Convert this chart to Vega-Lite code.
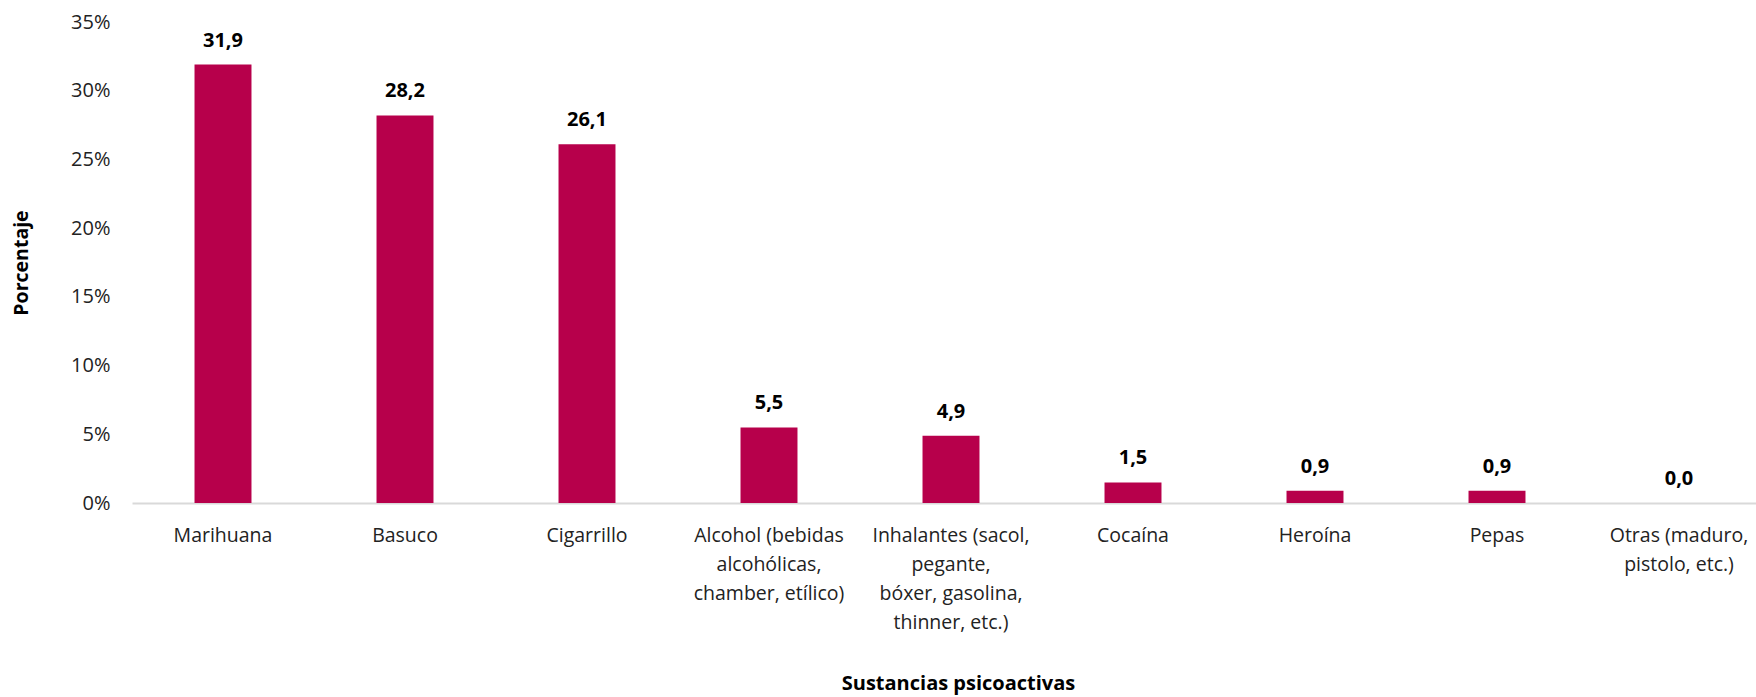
{
  "$schema": "https://vega.github.io/schema/vega-lite/v6.json",
  "autosize": {"type": "none"},
  "padding": {"left": 132, "top": 22, "right": 0, "bottom": 194},
  "width": 1624,
  "height": 481,
  "config": {
    "view": {"stroke": null},
    "font": "Open Sans",
    "locale": {"number": {"decimal": ",", "thousands": ".", "grouping": [3], "currency": ["", " €"]}}
  },
  "data": {
    "values": [
      {"sustancia": "Marihuana", "porcentaje": 31.9},
      {"sustancia": "Basuco", "porcentaje": 28.2},
      {"sustancia": "Cigarrillo", "porcentaje": 26.1},
      {"sustancia": "Alcohol (bebidas alcohólicas, chamber, etílico)", "porcentaje": 5.5},
      {"sustancia": "Inhalantes (sacol, pegante, bóxer, gasolina, thinner, etc.)", "porcentaje": 4.9},
      {"sustancia": "Cocaína", "porcentaje": 1.5},
      {"sustancia": "Heroína", "porcentaje": 0.9},
      {"sustancia": "Pepas", "porcentaje": 0.9},
      {"sustancia": "Otras (maduro, pistolo, etc.)", "porcentaje": 0.0}
    ]
  },
  "encoding": {
    "x": {
      "field": "sustancia",
      "type": "nominal",
      "sort": null,
      "scale": {"range": [0, 1638], "paddingInner": 0.687, "paddingOuter": 0.3435},
      "axis": {
        "title": "Sustancias psicoactivas",
        "titleFontSize": 20,
        "titleFontWeight": "bold",
        "titleColor": "#000000",
        "titlePadding": 42,
        "titleX": 826,
        "labelAngle": 0,
        "labelFontSize": 19.5,
        "labelColor": "#222222",
        "labelPadding": 23,
        "labelLineHeight": 29,
        "labelBaseline": "top",
        "ticks": false,
        "domainColor": "#d9d9d9",
        "domainWidth": 2,
        "labelExpr": "datum.label == 'Alcohol (bebidas alcohólicas, chamber, etílico)' ? ['Alcohol (bebidas', 'alcohólicas,', 'chamber, etílico)'] : datum.label == 'Inhalantes (sacol, pegante, bóxer, gasolina, thinner, etc.)' ? ['Inhalantes (sacol,', 'pegante,', 'bóxer, gasolina,', 'thinner, etc.)'] : datum.label == 'Otras (maduro, pistolo, etc.)' ? ['Otras (maduro,', 'pistolo, etc.)'] : datum.label"
      }
    },
    "y": {
      "field": "porcentaje",
      "type": "quantitative",
      "scale": {"domain": [0, 35], "nice": false},
      "axis": {
        "title": "Porcentaje",
        "titleFontSize": 19.5,
        "titleFontWeight": "bold",
        "titleColor": "#000000",
        "titleX": -101,
        "values": [0, 5, 10, 15, 20, 25, 30, 35],
        "labelExpr": "datum.value + '%'",
        "labelFontSize": 20,
        "labelColor": "#222222",
        "labelPadding": 22,
        "ticks": false,
        "domain": false,
        "grid": false
      }
    }
  },
  "layer": [
    {"mark": {"type": "bar", "color": "#B7004B"}},
    {
      "mark": {"type": "text", "fontWeight": "bold", "fontSize": 20, "color": "#000000", "baseline": "middle", "dy": -24},
      "encoding": {"text": {"field": "porcentaje", "type": "quantitative", "format": ".1f"}}
    }
  ]
}
